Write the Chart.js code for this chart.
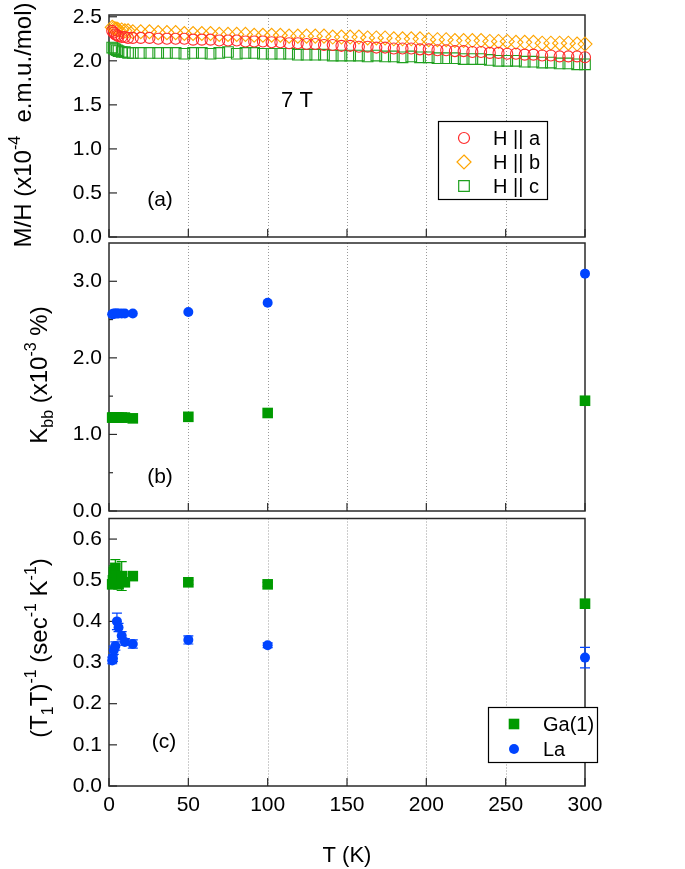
<!DOCTYPE html>
<html><head><meta charset="utf-8">
<script src="https://cdn.jsdelivr.net/npm/chart.js@4.4.0/dist/chart.umd.min.js"></script>
<style>
html,body{margin:0;padding:0;background:#fff;width:685px;height:869px;overflow:hidden}
canvas{position:absolute;left:0}
</style></head><body>
<canvas id="cA" width="685" height="260" style="top:0px;width:685px;height:260px"></canvas>
<canvas id="cB" width="685" height="286" style="top:235px;width:685px;height:286px"></canvas>
<canvas id="cC" width="685" height="358" style="top:511px;width:685px;height:358px"></canvas>
<script>
// ---------- data ----------
const tempA = [2,3,4,5,6,8,10,12,15,20,25.5,31,36.5,42,47.5,53,58.5,64,69.5,75,80.5,86,91.5,97,102.5,108,113.5,119,124.5,130,135.5,141,146.5,152,157.5,163,168.5,174,179.5,185,190.5,196,201.5,207,212.5,218,223.5,229,234.5,240,245.5,251,256.5,262,267.5,273,278.5,284,289.5,295,300];
const mhA = [2.34,2.32,2.30,2.29,2.28,2.27,2.27,2.26,2.26,2.26,2.26,2.25,2.25,2.25,2.25,2.24,2.24,2.24,2.23,2.23,2.23,2.22,2.22,2.22,2.21,2.21,2.20,2.20,2.19,2.19,2.18,2.18,2.17,2.17,2.16,2.16,2.15,2.15,2.14,2.14,2.14,2.13,2.13,2.12,2.12,2.11,2.11,2.10,2.10,2.09,2.09,2.08,2.08,2.07,2.07,2.06,2.06,2.05,2.05,2.05,2.04];
const mhB = [2.38,2.37,2.36,2.36,2.35,2.35,2.34,2.34,2.33,2.33,2.33,2.32,2.32,2.32,2.31,2.31,2.31,2.31,2.30,2.30,2.30,2.30,2.29,2.29,2.29,2.29,2.28,2.28,2.28,2.28,2.28,2.27,2.27,2.27,2.27,2.26,2.26,2.26,2.25,2.25,2.25,2.25,2.24,2.24,2.24,2.23,2.23,2.23,2.23,2.22,2.22,2.22,2.21,2.21,2.21,2.20,2.20,2.20,2.20,2.19,2.19];
const mhC = [2.15,2.14,2.13,2.12,2.11,2.10,2.10,2.09,2.09,2.09,2.09,2.09,2.09,2.09,2.08,2.09,2.09,2.08,2.09,2.10,2.08,2.09,2.09,2.08,2.08,2.08,2.08,2.07,2.07,2.07,2.07,2.06,2.06,2.06,2.06,2.05,2.06,2.05,2.05,2.04,2.05,2.04,2.04,2.03,2.03,2.03,2.02,2.02,2.02,2.01,2.00,2.00,2.00,1.99,1.99,1.98,1.98,1.97,1.97,1.96,1.96];

const tempNMR = [2,2.5,3,4,5,6,8,10,15,50,100,300];
const kGa = [1.22,1.22,1.22,1.22,1.22,1.22,1.22,1.22,1.21,1.23,1.28,1.44];
const kLa = [2.57,2.57,2.58,2.58,2.58,2.58,2.58,2.58,2.58,2.60,2.72,3.10];
const rGa = [0.49,0.50,0.52,0.53,0.51,0.49,0.51,0.495,0.51,0.495,0.49,0.443];
const rGaErr = [0.01,0.01,0.015,0.02,0.01,0.01,0.035,0.01,0.005,0.005,0.005,0.005];
const rLa = [0.305,0.31,0.33,0.34,0.40,0.385,0.365,0.35,0.345,0.355,0.342,0.312];
const rLaErr = [0.008,0.008,0.01,0.01,0.02,0.01,0.01,0.008,0.01,0.01,0.006,0.025];

const xTicks = [0,50,100,150,200,250,300];
const xGrid = [50,100,150,200,250];
const yTicksA = [0,0.5,1.0,1.5,2.0,2.5];
const yTicksB = [0,1,2,3];
const yMinorB = [0.5,1.5,2.5,3.5];
const yTicksC = [0,0.1,0.2,0.3,0.4,0.5,0.6];

const FONT = '"Liberation Sans", Arial, Helvetica, sans-serif';
const RED = '#ff2a2a', ORANGE = '#ffa500', GREENH = '#1fa01f', GREEN = '#009a00', BLUE = '#0044ff';

function pts(xs, ys){ return xs.map((x,i)=>({x:x,y:ys[i]})); }

function marker(ctx, style, x, y, r, color, filled){
  ctx.save();
  ctx.strokeStyle = color; ctx.fillStyle = color; ctx.lineWidth = 1.2;
  ctx.beginPath();
  if (style==='circle') ctx.arc(x,y,r,0,Math.PI*2);
  else if (style==='rect'){ const s=r*Math.SQRT1_2; ctx.rect(x-s,y-s,2*s,2*s); }
  else if (style==='rectRot'){ ctx.moveTo(x,y-r); ctx.lineTo(x+r,y); ctx.lineTo(x,y+r); ctx.lineTo(x-r,y); ctx.closePath(); }
  if (filled) ctx.fill(); else ctx.stroke();
  ctx.restore();
}

function drawRich(ctx, segs, cx, cy, size, rot){
  const base = size+'px '+FONT, small = Math.round(size*0.68)+'px '+FONT;
  let total = 0;
  segs.forEach(s=>{ ctx.font = (s.sup||s.sub)?small:base; s.w = ctx.measureText(s.t).width; total += s.w; });
  ctx.save(); ctx.translate(cx,cy); if (rot) ctx.rotate(-Math.PI/2);
  ctx.textBaseline='alphabetic'; ctx.textAlign='left'; ctx.fillStyle='#000';
  let x = -total/2; const by = size*0.36;
  segs.forEach(s=>{ ctx.font=(s.sup||s.sub)?small:base; const dy = s.sup? -size*0.45 : s.sub? size*0.25 : 0; ctx.fillText(s.t,x,by+dy); x+=s.w; });
  ctx.restore();
}

const overlay = {
  id:'overlay',
  beforeDatasetsDraw(chart, args, o){
    const ctx = chart.ctx, ca = chart.chartArea, x = chart.scales.x, y = chart.scales.y;
    ctx.save();
    ctx.strokeStyle='#9a9a9a'; ctx.lineWidth=1; ctx.setLineDash([1,2]);
    xGrid.forEach(v=>{ const px=Math.round(x.getPixelForValue(v))+0.5; ctx.beginPath(); ctx.moveTo(px,ca.top); ctx.lineTo(px,ca.bottom); ctx.stroke(); });
    ctx.setLineDash([]);
    ctx.strokeStyle='#2a2a2a'; ctx.lineWidth=1.5;
    ctx.strokeRect(ca.left, ca.top, ca.right-ca.left, ca.bottom-ca.top);
    ctx.lineWidth=1.2;
    xTicks.forEach(v=>{ const px=x.getPixelForValue(v); ctx.beginPath(); ctx.moveTo(px,ca.bottom); ctx.lineTo(px,ca.bottom-8); ctx.stroke(); });
    o.yTicks.forEach(v=>{ const py=y.getPixelForValue(v); ctx.beginPath(); ctx.moveTo(ca.left,py); ctx.lineTo(ca.left+8,py); ctx.stroke(); });
    (o.yMinor||[]).forEach(v=>{ const py=y.getPixelForValue(v); if(py<ca.top+1) return; ctx.beginPath(); ctx.moveTo(ca.left,py); ctx.lineTo(ca.left+4,py); ctx.stroke(); });
    (o.err||[]).forEach(e=>{
      ctx.strokeStyle=e.color; ctx.lineWidth=1.2;
      e.xs.forEach((xv,i)=>{
        const px=x.getPixelForValue(xv), p1=y.getPixelForValue(e.ys[i]-e.es[i]), p2=y.getPixelForValue(e.ys[i]+e.es[i]);
        ctx.beginPath(); ctx.moveTo(px,p1); ctx.lineTo(px,p2);
        ctx.moveTo(px-5,p1); ctx.lineTo(px+5,p1); ctx.moveTo(px-5,p2); ctx.lineTo(px+5,p2); ctx.stroke();
      });
    });
    ctx.restore();
  },
  afterDatasetsDraw(chart, args, o){
    const ctx = chart.ctx;
    ctx.save();
    if (o.legend){
      const L=o.legend;
      ctx.strokeStyle='#000'; ctx.lineWidth=1.2;
      ctx.fillStyle='#fff'; ctx.fillRect(L.x0,L.y0,L.x1-L.x0,L.y1-L.y0);
      ctx.strokeRect(L.x0+0.5,L.y0+0.5,L.x1-L.x0,L.y1-L.y0);
      L.items.forEach(it=>{
        marker(ctx,it.style,L.mx,it.y,it.r,it.color,it.filled);
        ctx.fillStyle='#000'; ctx.font=L.size+'px '+FONT; ctx.textBaseline='middle'; ctx.textAlign='left';
        ctx.fillText(it.text,L.tx,it.y+1);
      });
    }
    (o.texts||[]).forEach(t=>{ ctx.fillStyle='#000'; ctx.font=t.size+'px '+FONT; ctx.textAlign='center'; ctx.textBaseline='middle'; ctx.fillText(t.t,t.x,t.y); });
    if (o.ytitle) drawRich(ctx,o.ytitle.segs,o.ytitle.x,o.ytitle.y,o.ytitle.size,true);
    ctx.restore();
  }
};

function makeChart(id, cfg){
  const tickFont = {family:FONT, size:21};
  return new Chart(document.getElementById(id), {
    type:'scatter',
    data:{datasets:cfg.datasets},
    options:{
      responsive:false, animation:false, devicePixelRatio:1,
      layout:{padding:{left:0,right:100,top:cfg.padTop,bottom:cfg.padBottom}},
      plugins:{legend:{display:false}, tooltip:{enabled:false}, overlay:cfg.overlay},
      scales:{
        x:{type:'linear', min:0, max:300, display:cfg.showX,
           afterBuildTicks:s=>{ s.ticks = xTicks.map(v=>({value:v})); },
           afterFit:s=>{ if(cfg.showX) s.height = cfg.xHeight; s.paddingLeft=0; s.paddingRight=0; },
           grid:{display:false, drawTicks:false}, border:{display:false},
           ticks:{font:tickFont, color:'#000', padding:7, maxRotation:0, callback:v=>String(v)},
           title:{display:cfg.showX, text:'T (K)', font:{family:FONT,size:22}, color:'#000', padding:{top:0,bottom:0}}},
        y:{type:'linear', min:0, max:cfg.yMax,
           afterBuildTicks:s=>{ s.ticks = cfg.yTicks.map(v=>({value:v})); },
           afterFit:s=>{ s.width = 109; s.paddingTop=0; s.paddingBottom=0; },
           grid:{display:false, drawTicks:false}, border:{display:false},
           ticks:{font:tickFont, color:'#000', padding:7, callback:v=>Number(v).toFixed(1)}}
      }
    },
    plugins:[overlay]
  });
}

// canvas A: top 0
makeChart('cA', {
  padTop:15, padBottom:23, showX:false, yMax:2.52, yTicks:yTicksA,
  datasets:[
    {label:'H || a', data:pts(tempA,mhA), pointStyle:'circle', pointRadius:5.5, pointBorderWidth:1.1, pointBorderColor:RED, pointBackgroundColor:'rgba(0,0,0,0)', showLine:false, clip:false},
    {label:'H || b', data:pts(tempA,mhB), pointStyle:'rectRot', pointRadius:7, pointBorderWidth:1.1, pointBorderColor:ORANGE, pointBackgroundColor:'rgba(0,0,0,0)', showLine:false, clip:false},
    {label:'H || c', data:pts(tempA,mhC), pointStyle:'rect', pointRadius:7.5, pointBorderWidth:1.1, pointBorderColor:GREENH, pointBackgroundColor:'rgba(0,0,0,0)', showLine:false, clip:false}
  ],
  overlay:{
    yTicks:yTicksA,
    legend:{x0:438,y0:121,x1:547,y1:199,mx:464,tx:493,size:20,items:[
      {style:'circle',r:5.5,color:RED,filled:false,text:'H || a',y:138},
      {style:'rectRot',r:7,color:ORANGE,filled:false,text:'H || b',y:162},
      {style:'rect',r:7.5,color:GREENH,filled:false,text:'H || c',y:186}]},
    texts:[{t:'7 T',x:297,y:101,size:22},{t:'(a)',x:160,y:200,size:21}],
    ytitle:{x:22,y:125,size:24,segs:[{t:'M/H (x10'},{t:'-4',sup:true},{t:'  e.m.u./mol)'}]}
  }
});

// canvas B: top 235
makeChart('cB', {
  padTop:8, padBottom:10, showX:false, yMax:3.5, yTicks:yTicksB,
  datasets:[
    {label:'La', data:pts(tempNMR,kLa), pointStyle:'circle', pointRadius:5, pointBorderWidth:0, pointBackgroundColor:BLUE, showLine:false, clip:false},
    {label:'Ga(1)', data:pts(tempNMR,kGa), pointStyle:'rect', pointRadius:7.5, pointBorderWidth:0, pointBackgroundColor:GREEN, showLine:false, clip:false}
  ],
  overlay:{
    yTicks:yTicksB, yMinor:yMinorB,
    texts:[{t:'(b)',x:160,y:477-235,size:21}],
    ytitle:{x:38,y:375-235,size:24,segs:[{t:'K'},{t:'bb',sub:true},{t:' (x10'},{t:'-3',sup:true},{t:' %)'}]}
  }
});

// canvas C: top 511
makeChart('cC', {
  padTop:7, padBottom:0, showX:true, xHeight:83, yMax:0.65, yTicks:yTicksC,
  datasets:[
    {label:'La', data:pts(tempNMR,rLa), pointStyle:'circle', pointRadius:5, pointBorderWidth:0, pointBackgroundColor:BLUE, showLine:false, clip:false},
    {label:'Ga(1)', data:pts(tempNMR,rGa), pointStyle:'rect', pointRadius:7.5, pointBorderWidth:0, pointBackgroundColor:GREEN, showLine:false, clip:false}
  ],
  overlay:{
    yTicks:yTicksC,
    err:[{xs:tempNMR,ys:rGa,es:rGaErr,color:GREEN},{xs:tempNMR,ys:rLa,es:rLaErr,color:BLUE}],
    legend:{x0:488,y0:707-511,x1:597,y1:762-511,mx:514,tx:543,size:20,items:[
      {style:'rect',r:7.5,color:GREEN,filled:true,text:'Ga(1)',y:724-511},
      {style:'circle',r:5,color:BLUE,filled:true,text:'La',y:749-511}]},
    texts:[{t:'(c)',x:164,y:742-511,size:21}],
    ytitle:{x:38,y:648-511,size:24,segs:[{t:'(T'},{t:'1',sub:true},{t:'T)'},{t:'-1',sup:true},{t:' (sec'},{t:'-1',sup:true},{t:' K'},{t:'-1',sup:true},{t:')'}]}
  }
});
</script></body></html>
